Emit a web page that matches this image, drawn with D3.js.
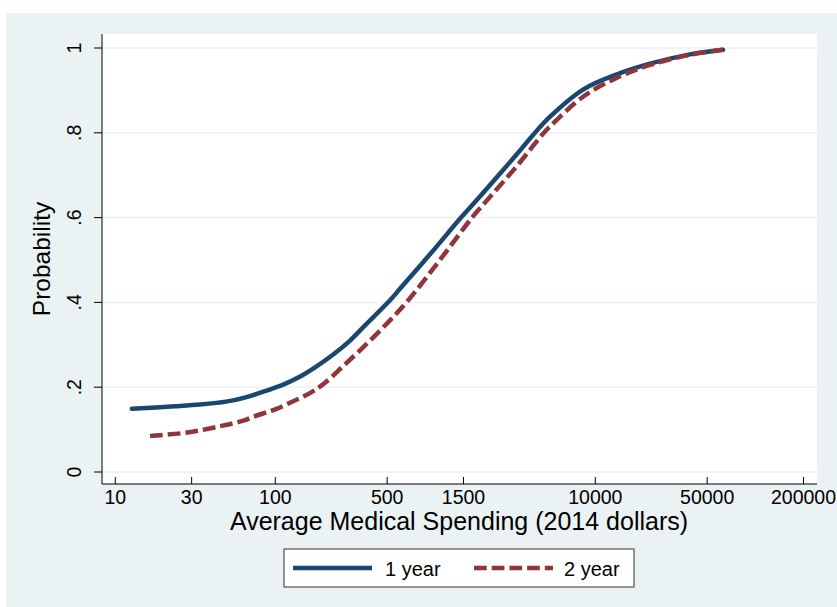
<!DOCTYPE html>
<html>
<head>
<meta charset="utf-8">
<script src="https://cdn.jsdelivr.net/npm/d3@7"></script>
<style>
  body { margin: 0; background: #fff; }
  text { font-family: "Liberation Sans", Arial, sans-serif; fill: #000; }
</style>
</head>
<body>
<svg id="chart" width="837" height="607"></svg>
<script>
// valeurs (x = dépenses, y = probabilité)
var oneYearX = [12.7, 23.6, 33.8, 43, 54.6, 69.5, 88.3, 112, 143, 181, 230, 293, 373, 521, 601, 968, 1448, 1987, 3240, 4083, 5213, 8380, 13670, 21970, 39000, 62800];
var oneYearY = [0.149, 0.155, 0.159, 0.163, 0.169, 0.179, 0.192, 0.206, 0.225, 0.249, 0.277, 0.310, 0.350, 0.405, 0.432, 0.522, 0.600, 0.658, 0.750, 0.795, 0.838, 0.902, 0.938, 0.963, 0.985, 0.996];

var twoYearX = [16.5, 28.1, 45.2, 63.1, 72.5, 101.8, 118, 164.5, 199, 266, 372, 510, 660, 1068, 1695, 1987, 3240, 4640, 5213, 8380, 13670, 21970, 39000, 62800];
var twoYearY = [0.085, 0.093, 0.108, 0.121, 0.130, 0.149, 0.160, 0.186, 0.207, 0.250, 0.302, 0.354, 0.400, 0.500, 0.600, 0.630, 0.722, 0.795, 0.815, 0.885, 0.930, 0.960, 0.984, 0.996];

var xTicks = [10, 30, 100, 500, 1500, 10000, 50000, 200000];
var yTicks = [0, 0.2, 0.4, 0.6, 0.8, 1];
var yTickLabels = ["0", ".2", ".4", ".6", ".8", "1"];
var seriesNames = ["1 year", "2 year"];

var bg = "#EAF2F3";
var blue = "#1A476F";
var red = "#90353B";

var svg = d3.select("#chart");

// fond extérieur + zone du graphique
svg.append("rect").attr("x", 6).attr("y", 13).attr("width", 831).attr("height", 594).attr("fill", bg);
svg.append("rect").attr("x", 102).attr("y", 34).attr("width", 715).attr("height", 450).attr("fill", "#fff");

var x = d3.scaleLog().domain([10, 200000]).range([115.3, 803.5]);
var y = d3.scaleLinear().domain([0, 1]).range([472, 48]);

// lignes de grille
svg.selectAll(".grid")
  .data(yTicks)
  .enter()
  .append("line")
  .attr("x1", 102).attr("x2", 817)
  .attr("y1", d => y(d)).attr("y2", d => y(d))
  .attr("stroke", bg)
  .attr("stroke-width", 1.5);

// axe Y
var yAxis = svg.append("g");
yAxis.append("line")
  .attr("x1", 102).attr("x2", 102).attr("y1", 34).attr("y2", 484)
  .attr("stroke", "#000").attr("stroke-width", 1);
yAxis.selectAll(".ytick")
  .data(yTicks)
  .enter()
  .append("line")
  .attr("x1", 94).attr("x2", 102)
  .attr("y1", d => y(d)).attr("y2", d => y(d))
  .attr("stroke", "#000").attr("stroke-width", 1);
yAxis.selectAll(".ylab")
  .data(yTicks)
  .enter()
  .append("text")
  .attr("transform", (d, i) => `translate(81,${y(d)}) rotate(-90)`)
  .attr("text-anchor", "middle")
  .style("font-size", "19.5px")
  .text((d, i) => yTickLabels[i]);
svg.append("text")
  .attr("transform", "translate(50,259) rotate(-90)")
  .attr("text-anchor", "middle")
  .style("font-size", "24.5px")
  .text("Probability");

// axe X
var xAxis = svg.append("g");
xAxis.append("line")
  .attr("x1", 102).attr("x2", 817).attr("y1", 484).attr("y2", 484)
  .attr("stroke", "#000").attr("stroke-width", 1);
xAxis.selectAll(".xtick")
  .data(xTicks)
  .enter()
  .append("line")
  .attr("x1", d => x(d)).attr("x2", d => x(d))
  .attr("y1", 477).attr("y2", 484)
  .attr("stroke", "#000").attr("stroke-width", 1);
xAxis.selectAll(".xlab")
  .data(xTicks)
  .enter()
  .append("text")
  .attr("x", d => x(d))
  .attr("y", 504)
  .attr("text-anchor", "middle")
  .style("font-size", "19.5px")
  .text(d => d);
svg.append("text")
  .attr("x", 459)
  .attr("y", 530)
  .attr("text-anchor", "middle")
  .style("font-size", "25px")
  .text("Average Medical Spending (2014 dollars)");

// courbes
var line = d3.line()
  .x(d => x(d[0]))
  .y(d => y(d[1]))
  .curve(d3.curveCatmullRom.alpha(0.5));

var oneYear = oneYearX.map((v, i) => [v, oneYearY[i]]);
var twoYear = twoYearX.map((v, i) => [v, twoYearY[i]]);

svg.append("path")
  .datum(oneYear)
  .attr("d", line)
  .attr("fill", "none")
  .attr("stroke", blue)
  .attr("stroke-width", 4.5)
  .attr("stroke-linecap", "round");

svg.append("path")
  .datum(twoYear)
  .attr("d", line)
  .attr("fill", "none")
  .attr("stroke", red)
  .attr("stroke-width", 4.5)
  .attr("stroke-dasharray", "12.7,5");

// légende
var legend = svg.append("g");
legend.append("rect")
  .attr("x", 284).attr("y", 549).attr("width", 350).attr("height", 38)
  .attr("fill", "#fff").attr("stroke", "#333").attr("stroke-width", 1);
legend.append("line")
  .attr("x1", 293).attr("x2", 372).attr("y1", 568).attr("y2", 568)
  .attr("stroke", blue).attr("stroke-width", 4.5);
legend.append("text")
  .attr("x", 385).attr("y", 575.5)
  .style("font-size", "20px")
  .text(seriesNames[0]);
legend.append("line")
  .attr("x1", 474).attr("x2", 553).attr("y1", 568).attr("y2", 568)
  .attr("stroke", red).attr("stroke-width", 4.5)
  .attr("stroke-dasharray", "12.7,5");
legend.append("text")
  .attr("x", 564).attr("y", 575.5)
  .style("font-size", "20px")
  .text(seriesNames[1]);
</script>
</body>
</html>
